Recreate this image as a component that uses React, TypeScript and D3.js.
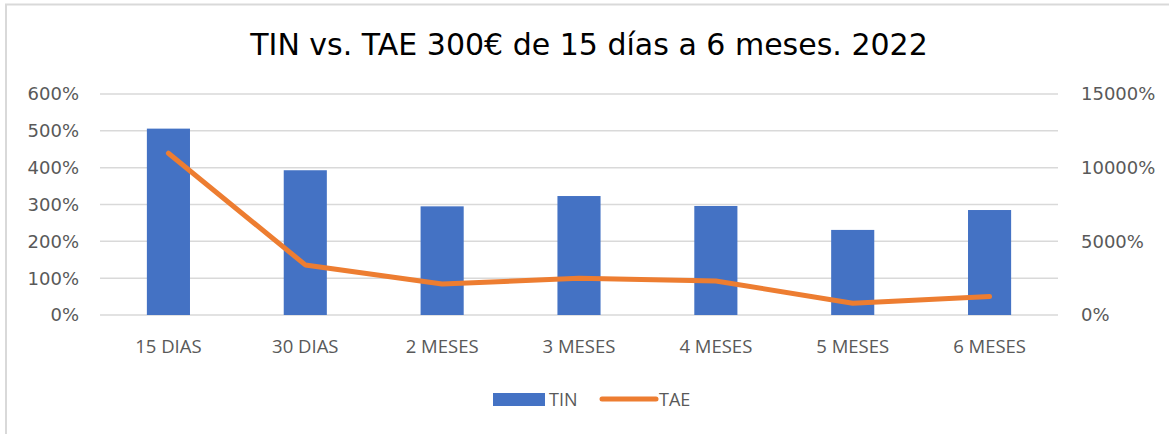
import * as d3 from "d3";
import React, { useEffect, useRef } from "react";

// DATA
const categories = ["15 DIAS", "30 DIAS", "2 MESES", "3 MESES", "4 MESES", "5 MESES", "6 MESES"];
const tin = [506, 393, 295, 323, 296, 231, 285];
const tae = [10980, 3400, 2100, 2490, 2310, 800, 1250];
const leftTicks = [0, 100, 200, 300, 400, 500, 600];
const rightTicks = [0, 2500, 5000, 7500, 10000, 12500, 15000];

export default function App() {
  const svgRef = useRef(null);
  const width = 1169;
  const height = 434;
  const margin = { top: 94, right: 111, bottom: 119, left: 100 };

  useEffect(() => {
    const svgEl = d3.select(svgRef.current);
    svgEl.selectAll("*").remove();

    const x_scale = d3
      .scaleBand()
      .domain(categories)
      .range([margin.left, width - margin.right])
      .paddingInner(0.685)
      .paddingOuter(0.3425);

    const yLeft = d3.scaleLinear().domain([0, 600]).range([height - margin.bottom, margin.top]);
    const yRight = d3.scaleLinear().domain([0, 15000]).range([height - margin.bottom, margin.top]);

    // chart border (left + top only visible)
    svgEl
      .append("path")
      .attr("d", `M6,${height} V4.5 H${width}`)
      .attr("fill", "none")
      .attr("stroke", "#d9d9d9")
      .attr("stroke-width", 2);

    // title
    svgEl
      .append("text")
      .attr("x", 589)
      .attr("y", 55)
      .attr("text-anchor", "middle")
      .attr("font-family", "DejaVu Sans, Verdana, sans-serif")
      .attr("font-size", 30)
      .attr("fill", "#000")
      .text("TIN vs. TAE 300€ de 15 días a 6 meses. 2022");

    // gridlines
    svgEl
      .append("g")
      .selectAll("line")
      .data(leftTicks)
      .enter()
      .append("line")
      .attr("x1", margin.left)
      .attr("x2", width - margin.right)
      .attr("y1", (d) => yLeft(d))
      .attr("y2", (d) => yLeft(d))
      .attr("stroke", "#d9d9d9")
      .attr("stroke-width", 1.5);

    // left axis labels
    svgEl
      .append("g")
      .selectAll("text")
      .data(leftTicks)
      .enter()
      .append("text")
      .attr("x", 79)
      .attr("y", (d) => yLeft(d))
      .attr("dy", "0.36em")
      .attr("text-anchor", "end")
      .attr("font-family", "DejaVu Sans, Verdana, sans-serif")
      .attr("font-size", 18)
      .attr("fill", "#595959")
      .text((d) => d + "%");

    // right axis labels
    svgEl
      .append("g")
      .selectAll("text")
      .data(rightTicks.filter((d) => d % 5000 === 0))
      .enter()
      .append("text")
      .attr("x", 1081)
      .attr("y", (d) => yRight(d))
      .attr("dy", "0.36em")
      .attr("text-anchor", "start")
      .attr("font-family", "DejaVu Sans, Verdana, sans-serif")
      .attr("font-size", 18)
      .attr("fill", "#595959")
      .text((d) => d + "%");

    // bars
    svgEl
      .append("g")
      .selectAll("rect")
      .data(tin)
      .enter()
      .append("rect")
      .attr("x", (d, i) => x_scale(categories[i]))
      .attr("width", x_scale.bandwidth())
      .attr("y", (d) => yLeft(d))
      .attr("height", (d) => yLeft(0) - yLeft(d))
      .attr("fill", "#4472c4");

    // TAE line
    const line = d3
      .line()
      .x((d, i) => x_scale(categories[i]) + x_scale.bandwidth() / 2)
      .y((d) => yRight(d));
    svgEl
      .append("path")
      .datum(tae)
      .attr("d", line)
      .attr("fill", "none")
      .attr("stroke", "#ed7d31")
      .attr("stroke-width", 5)
      .attr("stroke-linecap", "round")
      .attr("stroke-linejoin", "round");

    // category labels
    svgEl
      .append("g")
      .selectAll("text")
      .data(categories)
      .enter()
      .append("text")
      .attr("x", (d) => x_scale(d) + x_scale.bandwidth() / 2)
      .attr("y", 353)
      .attr("text-anchor", "middle")
      .attr("font-family", "Open Sans, sans-serif")
      .attr("font-size", 18.5)
      .attr("fill", "#595959")
      .text((d) => d);

    // legend
    const lg = svgEl.append("g");
    lg.append("rect").attr("x", 493).attr("y", 393).attr("width", 52).attr("height", 13).attr("fill", "#4472c4");
    lg.append("text")
      .attr("x", 549)
      .attr("y", 406)
      .attr("font-family", "Open Sans, sans-serif")
      .attr("font-size", 18)
      .attr("fill", "#595959")
      .text("TIN");
    lg.append("line")
      .attr("x1", 602)
      .attr("x2", 656)
      .attr("y1", 399)
      .attr("y2", 399)
      .attr("stroke", "#ed7d31")
      .attr("stroke-width", 5)
      .attr("stroke-linecap", "round");
    lg.append("text")
      .attr("x", 659)
      .attr("y", 406)
      .attr("font-family", "Open Sans, sans-serif")
      .attr("font-size", 18)
      .attr("fill", "#595959")
      .text("TAE");
  });

  return (
    <svg
      width={width}
      height={height}
      ref={svgRef}
      style={{ position: "absolute", left: 0, top: 0, background: "#fff" }}
    ></svg>
  );
}
